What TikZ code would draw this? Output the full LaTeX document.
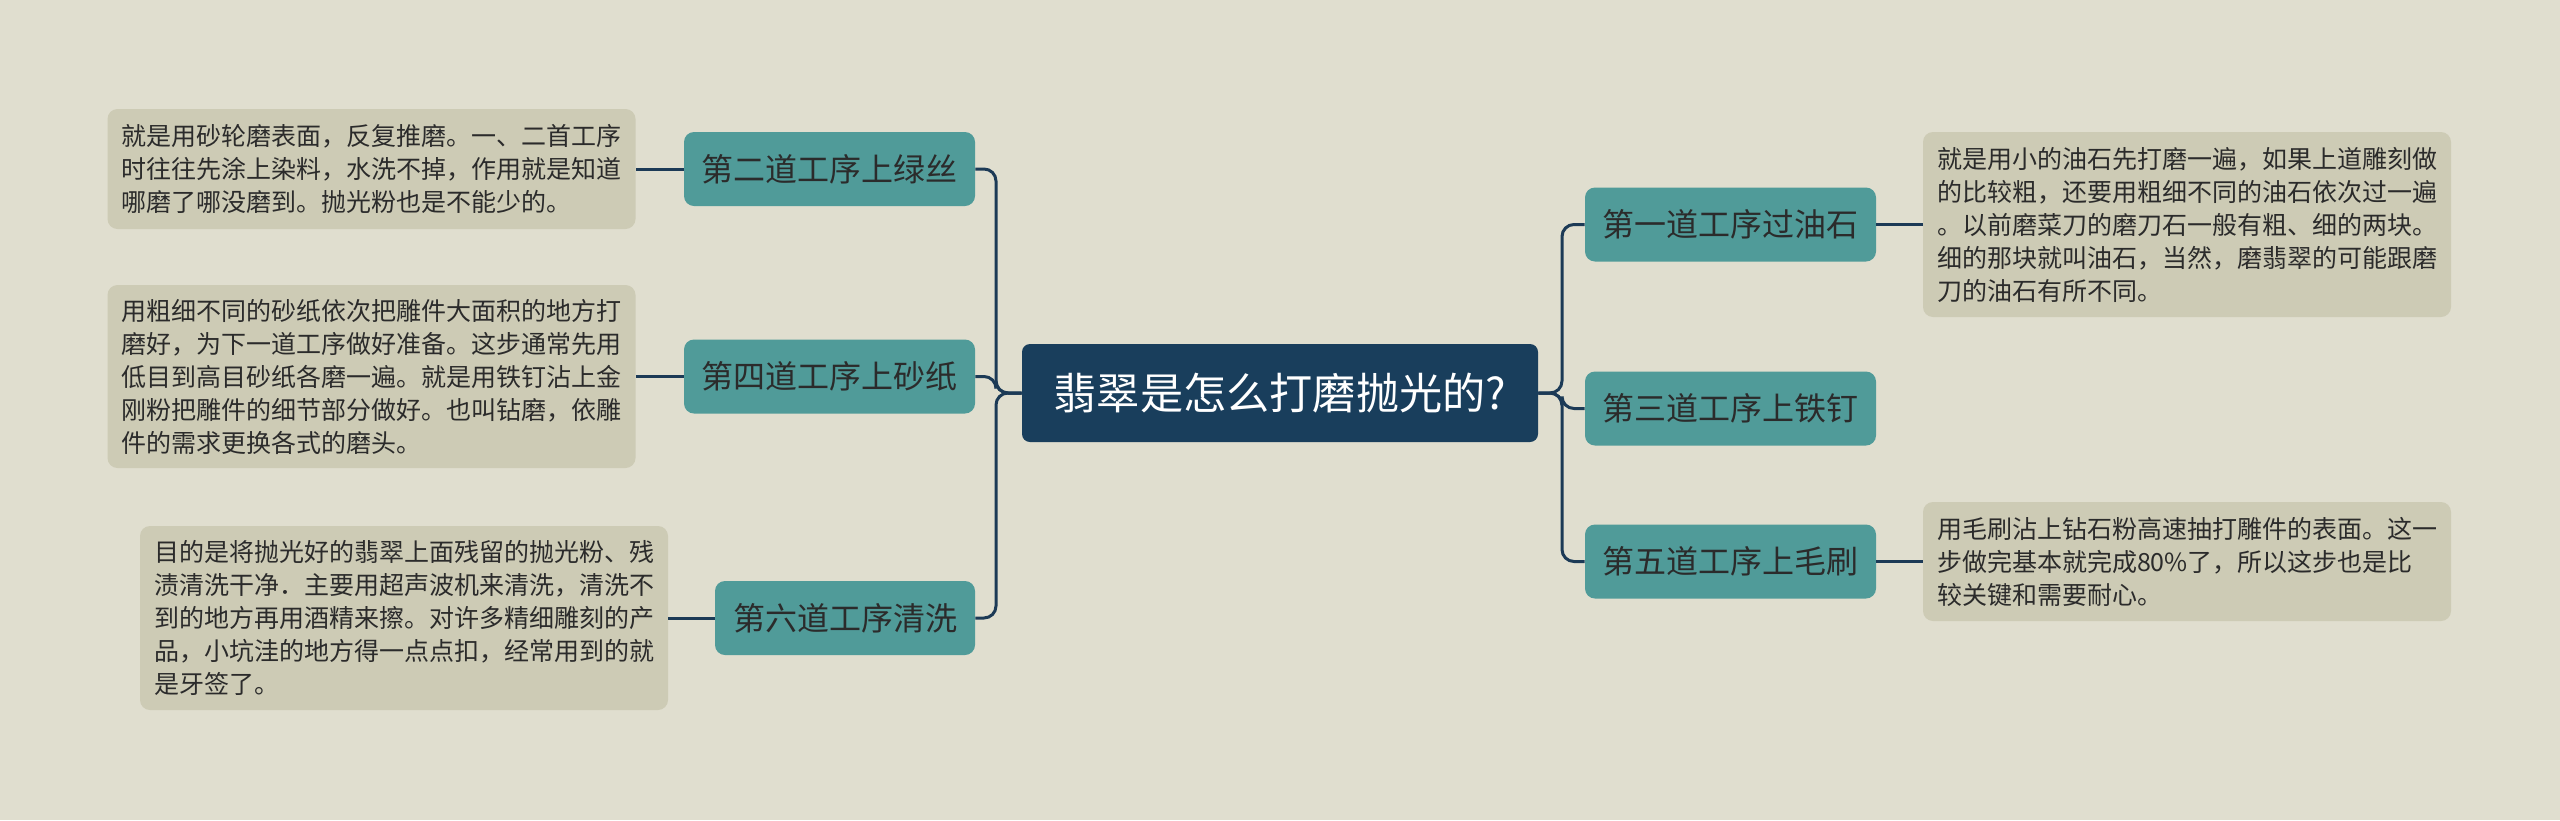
\documentclass[tikz,border=0pt]{standalone}
\usepackage{fontspec}
\setmainfont{Noto Sans CJK SC}
\definecolor{bgcol}{HTML}{E0DECF}
\definecolor{rootcol}{HTML}{193E5C}
\definecolor{linecol}{HTML}{1C3A56}
\definecolor{tealcol}{HTML}{509B99}
\definecolor{notecol}{HTML}{CDCBB5}
\definecolor{inkcol}{HTML}{2B2B2B}
\begin{document}
\begin{tikzpicture}[x=1pt,y=1pt,
		root/.style={fill=rootcol,rounded corners=4pt,text=white,minimum width=258pt,minimum height=49pt,font=\fontsize{21.6pt}{25pt}\selectfont},
		stage/.style={fill=tealcol,rounded corners=5pt,text=inkcol,minimum width=145.5pt,minimum height=37pt,font=\fontsize{16pt}{19pt}\selectfont},
		note/.style={fill=notecol,rounded corners=5pt,text=inkcol,align=left,minimum width=264pt,inner xsep=6.5pt,font=\fontsize{12.5pt}{16.5pt}\selectfont},
		branch/.style={draw=linecol,line width=1.5pt,rounded corners=6pt}]
				\useasboundingbox[fill=bgcol] (0,0) rectangle (1280,-410);
				\coordinate (lx) at (498,0);
				\coordinate (rx) at (781,0);
				\node[root] (root) at (640,-196.5) {翡翠是怎么打磨抛光的?};
				%left
				\node[stage] (l1) at (414.75,-84.5) {第二道工序上绿丝};
				\node[stage] (l2) at (414.75,-188.25) {第四道工序上砂纸};
				\node[stage,minimum width=130pt] (l3) at (422.5,-309) {第六道工序清洗};
				%right
				\node[stage] (r1) at (865.25,-112.25) {第一道工序过油石};
				\node[stage] (r2) at (865.25,-204.25) {第三道工序上铁钉};
				\node[stage] (r3) at (865.25,-280.75) {第五道工序上毛刷};
				%notes
				\node[note,minimum height=60pt] (n1) at (185.75,-84.5) {就是用砂轮磨表面，反复推磨。一、二首工序\\时往往先涂上染料，水洗不掉，作用就是知道\\哪磨了哪没磨到。抛光粉也是不能少的。};
				\node[note,minimum height=91.5pt] (n2) at (185.75,-188.25) {用粗细不同的砂纸依次把雕件大面积的地方打\\磨好，为下一道工序做好准备。这步通常先用\\低目到高目砂纸各磨一遍。就是用铁钉沾上金\\刚粉把雕件的细节部分做好。也叫钻磨，依雕\\件的需求更换各式的磨头。};
				\node[note,minimum height=92pt] (n3) at (202,-309) {目的是将抛光好的翡翠上面残留的抛光粉、残\\渍清洗干净．主要用超声波机来清洗，清洗不\\到的地方再用酒精来擦。对许多精细雕刻的产\\品，小坑洼的地方得一点点扣，经常用到的就\\是牙签了。};
				\node[note,minimum height=92.5pt] (n4) at (1093.5,-112.25) {就是用小的油石先打磨一遍，如果上道雕刻做\\的比较粗，还要用粗细不同的油石依次过一遍\\。以前磨菜刀的磨刀石一般有粗、细的两块。\\细的那块就叫油石，当然，磨翡翠的可能跟磨\\刀的油石有所不同。};
				\node[note,minimum height=59.5pt] (n5) at (1093.5,-280.75) {用毛刷沾上钻石粉高速抽打雕件的表面。这一\\步做完基本就完成80\%了，所以这步也是比\\较关键和需要耐心。};
				\foreach \s in {l1,l2,l3}{
					\draw[branch] (root.west) -- (root.west -| lx) |- (\s.east);
				}
				\foreach \s in {r1,r2,r3}{
					\draw[branch] (root.east) -- (root.east -| rx) |- (\s.west);
				}
				\draw[branch] (l1.west) -- (n1.east);
				\draw[branch] (l2.west) -- (n2.east);
				\draw[branch] (l3.west) -- (n3.east);
				\draw[branch] (r1.east) -- (n4.west);
				\draw[branch] (r3.east) -- (n5.west);
		\end{tikzpicture}
\end{document}
